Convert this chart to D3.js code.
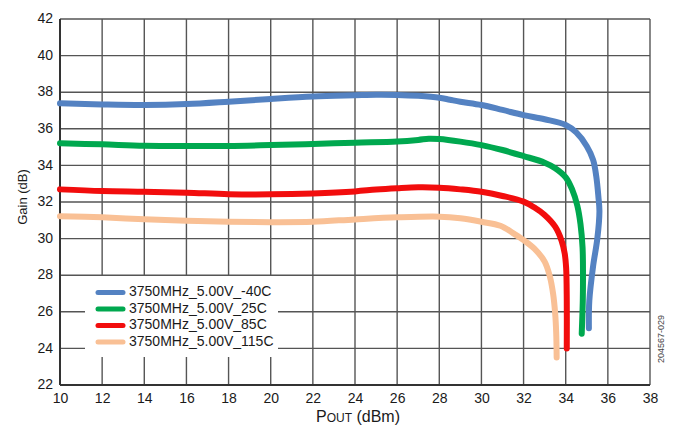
<!DOCTYPE html>
<html>
<head>
<meta charset="utf-8">
<script src="https://cdn.jsdelivr.net/npm/d3@7"></script>
<style>
  body { margin: 0; background: #fff; }
  text { font-family: "Liberation Sans", Arial, sans-serif; }
</style>
</head>
<body>
<div id="chart"></div>
<script>
// values (POUT dBm, Gain dB)
var pointsM40 = [[10,37.39],[12,37.33],[14,37.30],[16,37.35],[18,37.48],[20,37.63],[22,37.76],[24,37.83],[25,37.86],[26,37.85],[27,37.80],[28,37.70],[28.5,37.59],[29,37.48],[30,37.30],[31,37.03],[32,36.75],[33,36.52],[34,36.21],[34.5,35.8],[35,35.05],[35.3,34.3],[35.45,33.4],[35.55,32.3],[35.6,31.5],[35.5,30.0],[35.3,28.5],[35.12,26.6],[35.1,25.1]];
var points25 = [[10,35.21],[12,35.15],[14,35.08],[16,35.06],[18,35.06],[20,35.11],[22,35.17],[24,35.24],[26,35.30],[27,35.39],[27.5,35.46],[28,35.44],[29,35.30],[30,35.11],[31,34.84],[32,34.51],[33,34.15],[33.5,33.85],[34,33.35],[34.3,32.7],[34.55,31.8],[34.7,30.8],[34.8,29.5],[34.82,28.0],[34.81,26.6],[34.76,24.8]];
var points85 = [[10,32.69],[12,32.60],[14,32.56],[16,32.51],[18,32.43],[20,32.42],[22,32.47],[24,32.58],[25,32.68],[26,32.75],[27,32.80],[28,32.78],[29,32.69],[30,32.56],[31,32.33],[32,32.02],[32.5,31.71],[33,31.29],[33.5,30.65],[33.8,29.9],[33.95,29.2],[34.02,28.4],[34.05,26.6],[34.05,24.0]];
var points115 = [[10,31.22],[12,31.16],[14,31.06],[16,30.98],[18,30.92],[20,30.90],[22,30.92],[24,31.05],[26,31.16],[28,31.20],[29,31.11],[30,30.92],[30.9,30.70],[31.5,30.3],[32,29.92],[32.5,29.47],[33,28.74],[33.25,27.92],[33.4,27.0],[33.5,25.9],[33.55,24.8],[33.57,23.5]];

var seriesNames = ["3750MHz_5.00V_-40C", "3750MHz_5.00V_25C", "3750MHz_5.00V_85C", "3750MHz_5.00V_115C"];
var seriesPoints = [pointsM40, points25, points85, points115];

var xTicks = [10, 12, 14, 16, 18, 20, 22, 24, 26, 28, 30, 32, 34, 36, 38];
var yTicks = [22, 24, 26, 28, 30, 32, 34, 36, 38, 40, 42];

var color = d3.scaleOrdinal()
    .domain(seriesNames)
    .range(["#5482c2", "#00a84f", "#f20d0d", "#f9c095"]);

var width = 673;
var height = 431;
var margin = { top: 19, right: 23, bottom: 46, left: 60 };

var svg = d3.select("#chart")
    .append("svg")
    .attr("width", width)
    .attr("height", height);

var xScale = d3.scaleLinear()
    .domain([10, 38])
    .range([margin.left, width - margin.right]);

var yScale = d3.scaleLinear()
    .domain([22, 42])
    .range([height - margin.bottom, margin.top]);

// grid lines
svg.append("g")
    .selectAll("line")
    .data(xTicks.slice(1))
    .enter()
    .append("line")
    .attr("x1", function (d) { return xScale(d); })
    .attr("x2", function (d) { return xScale(d); })
    .attr("y1", yScale(22))
    .attr("y2", yScale(42))
    .attr("stroke", "#555")
    .attr("stroke-width", 1.4);

svg.append("g")
    .selectAll("line")
    .data(yTicks.slice(1))
    .enter()
    .append("line")
    .attr("x1", xScale(10))
    .attr("x2", xScale(38))
    .attr("y1", function (d) { return yScale(d); })
    .attr("y2", function (d) { return yScale(d); })
    .attr("stroke", "#555")
    .attr("stroke-width", 1.4);

// axes (labels only, lines drawn separately)
var xAxis = svg.append("g")
    .attr("transform", `translate(0, ${yScale(22)})`)
    .call(d3.axisBottom(xScale).tickValues(xTicks).tickSize(0).tickPadding(8));

var yAxis = svg.append("g")
    .attr("transform", `translate(${xScale(10)}, 0)`)
    .call(d3.axisLeft(yScale).tickValues(yTicks).tickSize(0).tickPadding(7));

[xAxis, yAxis].forEach(function (ax) {
    ax.select(".domain").remove();
    ax.selectAll("text")
        .attr("font-family", "Liberation Sans, Arial, sans-serif")
        .attr("font-size", "14px")
        .attr("fill", "#1a1a1a");
});
yAxis.selectAll("text").attr("dy", "0.26em");

svg.append("line")
    .attr("x1", xScale(10)).attr("x2", xScale(10))
    .attr("y1", yScale(22)).attr("y2", yScale(42))
    .attr("stroke", "#333").attr("stroke-width", 2);
svg.append("line")
    .attr("x1", xScale(10)).attr("x2", xScale(38))
    .attr("y1", yScale(22)).attr("y2", yScale(22))
    .attr("stroke", "#333").attr("stroke-width", 2);

// legend box covers the grid
var legend = svg.append("g")
    .attr("class", "legend")
    .attr("transform", "translate(85,276)");

legend.append("rect")
    .attr("width", 193)
    .attr("height", 81)
    .attr("fill", "white");

legend.selectAll("line")
    .data(seriesNames)
    .enter()
    .append("line")
    .attr("x1", 13)
    .attr("x2", 38)
    .attr("y1", function (d, i) { return 16.5 + i * 16.5; })
    .attr("y2", function (d, i) { return 16.5 + i * 16.5; })
    .attr("stroke", color)
    .attr("stroke-width", 5)
    .attr("stroke-linecap", "round");

legend.selectAll("text")
    .data(seriesNames)
    .enter()
    .append("text")
    .attr("x", 44)
    .attr("y", function (d, i) { return 20 + i * 16.5; })
    .attr("font-size", "14px")
    .attr("fill", "#1a1a1a")
    .text(function (d) { return d; });

// curves
var line = d3.line()
    .x(function (d) { return xScale(d[0]); })
    .y(function (d) { return yScale(d[1]); })
    .curve(d3.curveCatmullRom.alpha(0.5));

seriesPoints.forEach(function (pts, i) {
    svg.append("path")
        .datum(pts)
        .attr("fill", "none")
        .attr("stroke", color(seriesNames[i]))
        .attr("stroke-width", 6)
        .attr("stroke-linecap", "round")
        .attr("stroke-linejoin", "round")
        .attr("d", line);
});

// axis titles
svg.append("text")
    .attr("transform", "rotate(-90)")
    .attr("x", -197)
    .attr("y", 27)
    .attr("font-size", "13px")
    .attr("fill", "#1a1a1a")
    .style("text-anchor", "middle")
    .text("Gain (dB)");

var xTitle = svg.append("text")
    .attr("x", 358)
    .attr("y", 422)
    .attr("font-size", "16px")
    .attr("fill", "#1a1a1a")
    .style("text-anchor", "middle");
xTitle.append("tspan").text("P");
xTitle.append("tspan").attr("font-size", "12px").text("OUT");
xTitle.append("tspan").text(" (dBm)");

// figure code on the right edge
svg.append("text")
    .attr("transform", "translate(664,339) rotate(-90)")
    .attr("font-size", "9px")
    .attr("fill", "#444")
    .style("text-anchor", "middle")
    .text("204567-029");
</script>
</body>
</html>
